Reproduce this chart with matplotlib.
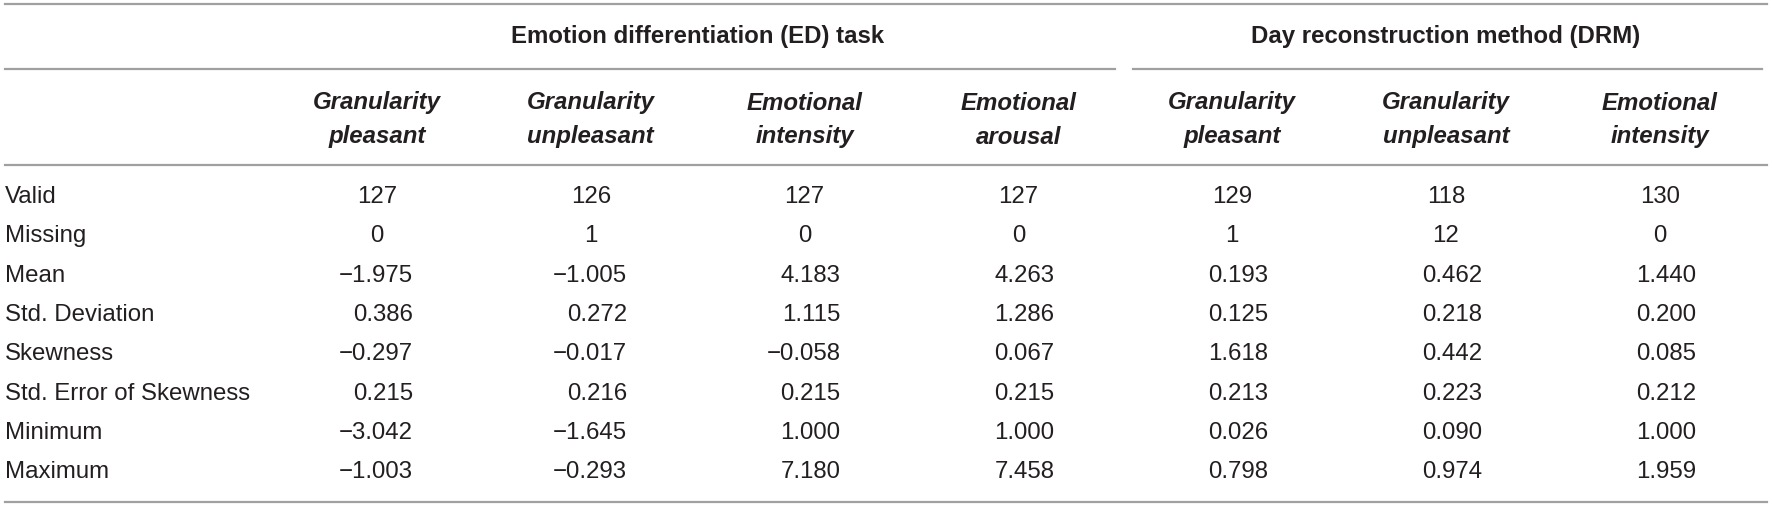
import matplotlib.pyplot as plt

plt.rcParams['font.family'] = ['Liberation Sans', 'DejaVu Sans']

# Table content
groups = ['Emotion differentiation (ED) task', 'Day reconstruction method (DRM)']
group_spans = [(0, 3), (4, 6)]
columns = ['Granularity\npleasant', 'Granularity\nunpleasant', 'Emotional\nintensity',
           'Emotional\narousal', 'Granularity\npleasant', 'Granularity\nunpleasant',
           'Emotional\nintensity']
rows = ['Valid', 'Missing', 'Mean', 'Std. Deviation', 'Skewness',
        'Std. Error of Skewness', 'Minimum', 'Maximum']

valid = [127, 126, 127, 127, 129, 118, 130]
missing = [0, 1, 0, 0, 1, 12, 0]
mean = [-1.975, -1.005, 4.183, 4.263, 0.193, 0.462, 1.440]
std_dev = [0.386, 0.272, 1.115, 1.286, 0.125, 0.218, 0.200]
skewness = [-0.297, -0.017, -0.058, 0.067, 1.618, 0.442, 0.085]
se_skew = [0.215, 0.216, 0.215, 0.215, 0.213, 0.223, 0.212]
minimum = [-3.042, -1.645, 1.000, 1.000, 0.026, 0.090, 1.000]
maximum = [-1.003, -0.293, 7.180, 7.458, 0.798, 0.974, 1.959]

int_rows = [valid, missing]
float_rows = [mean, std_dev, skewness, se_skew, minimum, maximum]

W, H = 1772, 507
fig = plt.figure(figsize=(W / 100, H / 100), dpi=100)
ax = fig.add_axes([0, 0, 1, 1])
ax.set_xlim(0, W)
ax.set_ylim(H, 0)
ax.axis('off')

txt = '#231f20'
rule = '#a0a0a0'
fs = 17.3

col_x = [377 + 213.8 * i for i in range(len(columns))]
row_y = [197 + 39.3 * i for i in range(len(rows))]
left, right = 5, 1767

# horizontal rules
ax.plot([left, right], [4, 4], color=rule, lw=1.6)
ax.plot([left, right], [165, 165], color=rule, lw=1.6)
ax.plot([left, right], [502, 502], color=rule, lw=1.6)
ax.plot([left, 1115], [69, 69], color=rule, lw=1.6)
ax.plot([1133, 1762], [69, 69], color=rule, lw=1.6)

# group headers
for name, (a, b) in zip(groups, group_spans):
    ax.text((col_x[a] + col_x[b]) / 2, 36, name, ha='center', va='center',
            fontsize=fs, fontweight='bold', color=txt)

# column headers
for x, name in zip(col_x, columns):
    top, bottom = name.split('\n')
    ax.text(x, 103, top, ha='center', va='center', fontsize=fs,
            fontweight='bold', fontstyle='italic', color=txt)
    ax.text(x, 137, bottom, ha='center', va='center', fontsize=fs,
            fontweight='bold', fontstyle='italic', color=txt)

# row labels
for y, name in zip(row_y, rows):
    ax.text(left, y, name, ha='left', va='center', fontsize=fs, color=txt)

# integer rows: centred
for r, vals in enumerate(int_rows):
    for x, v in zip(col_x, vals):
        ax.text(x, row_y[r], str(v), ha='center', va='center', fontsize=fs, color=txt)

# decimal rows: right aligned
for r, vals in enumerate(float_rows):
    y = row_y[r + len(int_rows)]
    for x, v in zip(col_x, vals):
        s = f'{v:.3f}'.replace('-', '\u2212')
        ax.text(x + 36, y, s, ha='right', va='center', fontsize=fs, color=txt)

fig.savefig('out.png', dpi=100)
